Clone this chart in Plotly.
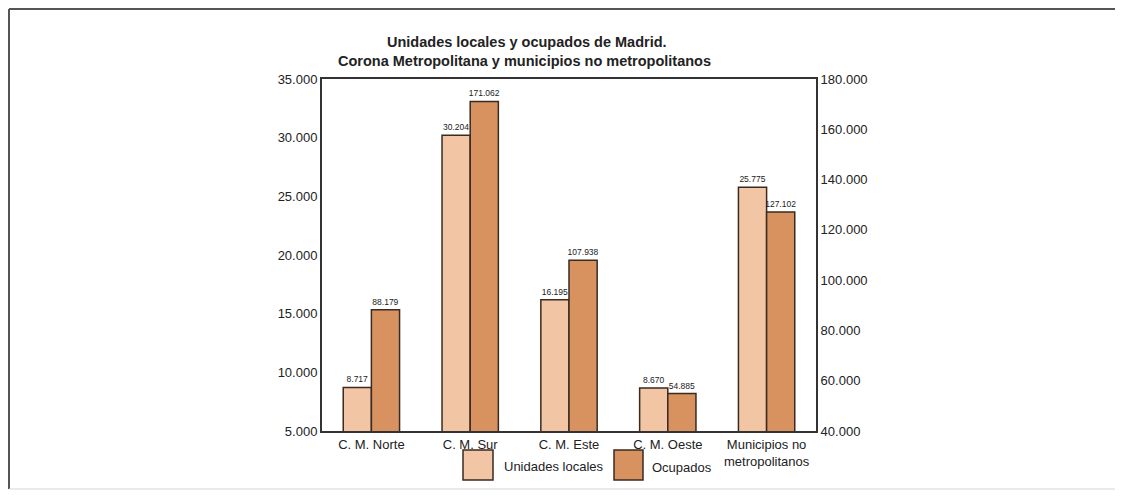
import plotly.graph_objects as go

# Data
categories = ["C. M. Norte", "C. M. Sur", "C. M. Este", "C. M. Oeste", "Municipios no<br>metropolitanos"]
unidades_locales = [8717, 30204, 16195, 8670, 25775]
ocupados = [88179, 171062, 107938, 54885, 127102]

left_ticks = [5000, 10000, 15000, 20000, 25000, 30000, 35000]
right_ticks = [40000, 60000, 80000, 100000, 120000, 140000, 160000, 180000]

COLORS = {
    "light": "#F2C6A4",
    "dark": "#D8925F",
    "edge": "#3A2A22",
    "text": "#222222",
    "frame": "#555555",
}

FONT = "Liberation Sans, Arial, sans-serif"

# plot area in page pixels (the page body adds an 8px offset)
OFF = 8
L, R, T, B = 322, 816, 79, 431
W, H = R - L, B - T


def px_x(x):
    return (x - L) / W


def px_y(y):
    return (B - y) / H


def bar_trace(values, name, color, axis, group):
    return go.Bar(
        x=categories, y=values, name=name,
        offsetgroup=group, yaxis=axis,
        marker=dict(color=color, line=dict(color=COLORS["edge"], width=1.5)),
        texttemplate="%{y:,.0f}", textposition="outside", constraintext="none",
        textfont=dict(family=FONT, size=8.5, color=COLORS["text"]),
        cliponaxis=False,
    )


fig = go.Figure()
fig.add_trace(bar_trace(unidades_locales, "Unidades locales", COLORS["light"], "y", "1"))
fig.add_trace(bar_trace(ocupados, "Ocupados", COLORS["dark"], "y2", "2"))

shapes = [
    # outer frame
    dict(type="line", xref="paper", yref="paper", x0=px_x(9), x1=px_x(1116), y0=px_y(9), y1=px_y(9),
         line=dict(color=COLORS["frame"], width=2)),
    dict(type="line", xref="paper", yref="paper", x0=px_x(9), x1=px_x(9), y0=px_y(9), y1=px_y(489),
         line=dict(color=COLORS["frame"], width=2)),
    dict(type="line", xref="paper", yref="paper", x0=px_x(1116), x1=px_x(1116), y0=px_y(9), y1=px_y(489),
         line=dict(color="#D5D5D5", width=1)),
    dict(type="line", xref="paper", yref="paper", x0=px_x(9), x1=px_x(1116), y0=px_y(489), y1=px_y(489),
         line=dict(color="#D5D5D5", width=1)),
    # legend swatches
    dict(type="rect", xref="paper", yref="paper", x0=px_x(463), x1=px_x(493), y0=px_y(450), y1=px_y(480),
         fillcolor=COLORS["light"], line=dict(color=COLORS["edge"], width=1.5)),
    dict(type="rect", xref="paper", yref="paper", x0=px_x(614), x1=px_x(643), y0=px_y(450), y1=px_y(480),
         fillcolor=COLORS["dark"], line=dict(color=COLORS["edge"], width=1.5)),
]

annotations = [
    dict(text="<b>Unidades locales y ocupados de Madrid.</b>", x=px_x(527), y=px_y(42),
         xref="paper", yref="paper", showarrow=False, xanchor="center", yanchor="middle",
         font=dict(family=FONT, size=14.5, color=COLORS["text"])),
    dict(text="<b>Corona Metropolitana y municipios no metropolitanos</b>", x=px_x(524), y=px_y(61),
         xref="paper", yref="paper", showarrow=False, xanchor="center", yanchor="middle",
         font=dict(family=FONT, size=14.5, color=COLORS["text"])),
    dict(text="Unidades locales", x=px_x(502), y=px_y(466), xref="paper", yref="paper",
         showarrow=False, xanchor="left", yanchor="middle",
         font=dict(family=FONT, size=13, color=COLORS["text"])),
    dict(text="Ocupados", x=px_x(650), y=px_y(467), xref="paper", yref="paper",
         showarrow=False, xanchor="left", yanchor="middle",
         font=dict(family=FONT, size=13, color=COLORS["text"])),
]

fig.update_layout(
    width=1123, height=496,
    margin=dict(l=L - OFF, r=1123 - R + OFF, t=T - OFF, b=496 - B + OFF, pad=0),
    paper_bgcolor="white", plot_bgcolor="white",
    separators=",.",
    barmode="group", bargap=0.43, bargroupgap=0,
    showlegend=False,
    font=dict(family=FONT, size=13, color=COLORS["text"]),
    xaxis=dict(
        type="category", range=[-0.5, 4.5],
        showline=True, mirror=True, linecolor="#333333", linewidth=2,
        ticks="", showgrid=False,
        tickfont=dict(family=FONT, size=13, color=COLORS["text"]),
    ),
    yaxis=dict(
        range=[5000, 35000], tickvals=left_ticks, tickformat=",.0f",
        showline=True, linecolor="#333333", linewidth=2,
        ticks="", showgrid=False, zeroline=False,
        tickfont=dict(family=FONT, size=13, color=COLORS["text"]),
    ),
    yaxis2=dict(
        range=[40000, 180000], tickvals=right_ticks, tickformat=",.0f",
        overlaying="y", side="right", anchor="x",
        showline=True, linecolor="#333333", linewidth=2,
        ticks="", showgrid=False, zeroline=False,
        tickfont=dict(family=FONT, size=13, color=COLORS["text"]),
    ),
    shapes=shapes,
    annotations=annotations,
)

fig.write_html("out.html")
